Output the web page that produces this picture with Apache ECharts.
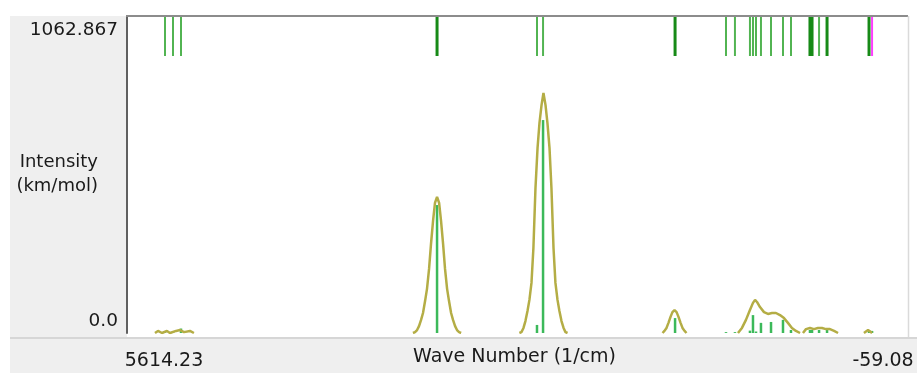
<!DOCTYPE html>
<html><head><meta charset="utf-8">
<script src="https://cdn.jsdelivr.net/npm/echarts@6/dist/echarts.min.js"></script>
<style>html,body{margin:0;padding:0;background:#fff}#c{width:917px;height:373px}</style>
</head><body><div id="c"></div>
<script>
// ---- data ----
const X_MAX = 5614.23, X_MIN = -59.08;
const Y_MAX = 1062.867, Y_MIN = 0;
const xTickLabels = ['5614.23', '-59.08'];
const yTickLabels = ['0.0', '1062.867'];
const xAxisTitle = 'Wave Number (1/cm)';
const yAxisTitle = 'Intensity\n(km/mol)';

// computed vibrational modes (cm^-1, km/mol)
const modeFreqs       = [5338, 5280, 5222, 3362, 2636, 2592, 1633, 1263, 1198, 1089, 1067, 1045, 1009, 936, 849, 791, 653, 638, 587, 529, 224, 202];
const modeIntensities = [3,    5,    15,   429,  27,   714,  50,   3,    3,    8,    60,   5,    34,   37,  44,  10,  10,  10,  10,  10,  10,  7];
const modeDegeneracy  = [1,    1,    1,    2,    1,    1,    2,    1,    1,    1,    1,    1,    1,    1,   1,   1,   2,   2,   1,   2,   2,   1];
const selectedMode = 202;

// broadened spectrum (null separates drawn segments)
const curveWave = [
  5411, 5389, 5360, 5324, 5302, 5258, 5229, 5200, 5157, 5128, null,
  3537, 3522, 3507, 3493, 3478, 3464, 3449, 3435, 3420, 3406, 3391, 3377, 3362, 3347, 3333, 3318, 3304, 3289, 3275, 3260, 3246, 3231, 3217, 3202, 3187, null,
  2764, 2749, 2734, 2720, 2705, 2691, 2676, 2662, 2647, 2632, 2618, 2603, 2589, 2574, 2560, 2545, 2531, 2516, 2502, 2487, 2473, 2458, 2443, 2429, 2414, null,
  1724, 1710, 1695, 1681, 1666, 1652, 1637, 1622, 1608, 1593, 1579, 1564, 1550, null,
  1176, 1147, 1118, 1089, 1067, 1052, 1038, 1016, 987, 958, 929, 900, 871, 842, 813, 784, 755, 725, null,
  704, 682, 653, 624, 595, 566, 537, 508, 478, 449, null,
  261, 231, 202
];
const curveIntensity = [
  0, 7, 0, 7, 0, 7, 10, 3, 7, 0, null,
  0, 3, 10, 23, 44, 67, 107, 148, 215, 298, 376, 436, 456, 436, 376, 298, 215, 148, 107, 67, 44, 23, 10, 3, 0, null,
  0, 3, 17, 40, 74, 111, 168, 285, 486, 620, 704, 764, 805, 764, 704, 620, 486, 285, 168, 111, 74, 40, 17, 3, 0, null,
  0, 7, 17, 34, 54, 70, 77, 70, 54, 34, 17, 7, 0, null,
  0, 17, 44, 77, 101, 111, 104, 87, 70, 64, 67, 67, 60, 50, 34, 17, 7, 0, null,
  0, 13, 17, 13, 17, 17, 13, 13, 7, 0, null,
  0, 10, 0
];

// ---- chart ----
const FONT = 'DejaVu Sans';
const TXT = '#1a1a1a';
const G = {left: 127, right: 9, top: 16, bottom: 40};
const W = 917, H = 373;

const curveData = curveWave.map((w, i) => w === null ? ['-', '-'] : [w, curveIntensity[i]]);
const stickData = modeFreqs.map((w, i) => [w, modeIntensities[i]]);
const bandData = modeFreqs.map((w, i) => [w, Y_MAX, modeDegeneracy[i]]);

const chart = echarts.init(document.getElementById('c'), null, {renderer: 'canvas'});
chart.setOption({
  animation: false,
  backgroundColor: '#fff',
  grid: {left: G.left, right: G.right, top: G.top, bottom: G.bottom, containLabel: false, outerBoundsMode: 'none'},
  graphic: [
    {type: 'rect', z: -10, silent: true, shape: {x: 10, y: 16, width: G.left - 10, height: 322}, style: {fill: '#efefef'}},
    {type: 'rect', z: -10, silent: true, shape: {x: 10, y: 339, width: W - 10, height: 34}, style: {fill: '#efefef'}},
    {type: 'line', z: -9, silent: true, shape: {x1: 10, y1: 338, x2: W, y2: 338}, style: {stroke: '#d6d6d6', lineWidth: 2}},
    {type: 'line', z: 20, silent: true, shape: {x1: G.left - 1, y1: 16, x2: W - G.right, y2: 16}, style: {stroke: '#8c8c8c', lineWidth: 2}},
    {type: 'line', z: 20, silent: true, shape: {x1: W - G.right + 0.5, y1: 16, x2: W - G.right + 0.5, y2: 337}, style: {stroke: '#dadada', lineWidth: 1.5}}
  ],
  xAxis: {
    type: 'value', inverse: true, min: X_MIN, max: X_MAX,
    axisLine: {show: false, onZero: false}, axisTick: {show: false}, splitLine: {show: false},
    axisLabel: {
      customValues: [X_MIN, X_MAX],
      margin: 19,
      fontFamily: FONT, fontSize: 19, color: TXT,
      formatter: v => v === X_MAX ? '{l|' + xTickLabels[0] + '}' : '{r|' + xTickLabels[1] + '}',
      rich: {
        l: {fontFamily: FONT, fontSize: 19, color: TXT, padding: [0, 0, 0, 74]},
        r: {fontFamily: FONT, fontSize: 19, color: TXT, padding: [0, 50, 0, 0]}
      }
    },
    name: xAxisTitle, nameLocation: 'middle', nameGap: 15, nameMoveOverlap: false,
    nameTextStyle: {fontFamily: FONT, fontSize: 19, color: TXT, padding: [0, 6, 0, 0]}
  },
  yAxis: {
    type: 'value', min: Y_MIN, max: Y_MAX, interval: Y_MAX, position: 'left',
    axisLine: {show: true, onZero: false, lineStyle: {color: '#606060', width: 2}},
    axisTick: {show: false}, splitLine: {show: false},
    axisLabel: {
      margin: 9, fontFamily: FONT, fontSize: 18.5, color: TXT,
      formatter: v => v === Y_MIN ? '{b|' + yTickLabels[0] + '}' : '{t|' + yTickLabels[1] + '}',
      rich: {
        t: {fontFamily: FONT, fontSize: 18.5, color: TXT, padding: [28, 0, 0, 0]},
        b: {fontFamily: FONT, fontSize: 18.5, color: TXT, padding: [0, 0, 24, 0]}
      }
    },
    name: yAxisTitle, nameLocation: 'middle', nameRotate: 0, nameGap: 29, nameMoveOverlap: false,
    nameTextStyle: {fontFamily: FONT, fontSize: 18, color: TXT, lineHeight: 24}
  },
  series: [
    {
      type: 'custom', name: 'modes-band', data: bandData, z: 5, clip: false,
      renderItem: (params, api) => {
        const w = api.value(0);
        const p = api.coord([w, api.value(1)]);
        const deg = api.value(2);
        const sel = w === selectedMode;
        return {type: 'line', shape: {x1: p[0], y1: p[1], x2: p[0], y2: p[1] + 40},
          style: {stroke: sel ? '#ff3cff' : (deg > 1 ? '#178a17' : '#52b452'), lineWidth: deg > 1 ? 3 : 2}};
      }
    },
    {
      type: 'custom', name: 'sticks', data: stickData, z: 3, clip: true,
      renderItem: (params, api) => {
        const p0 = api.coord([api.value(0), 0]);
        const p1 = api.coord([api.value(0), api.value(1)]);
        return {type: 'line', shape: {x1: p0[0], y1: p0[1], x2: p1[0], y2: p1[1]},
          style: {stroke: '#3cb95a', lineWidth: 2.5}};
      }
    },
    {
      type: 'line', name: 'spectrum', data: curveData, z: 4, clip: true,
      showSymbol: false, connectNulls: false,
      lineStyle: {color: '#b4ad45', width: 2.5}
    }
  ]
});
</script>
</body></html>
